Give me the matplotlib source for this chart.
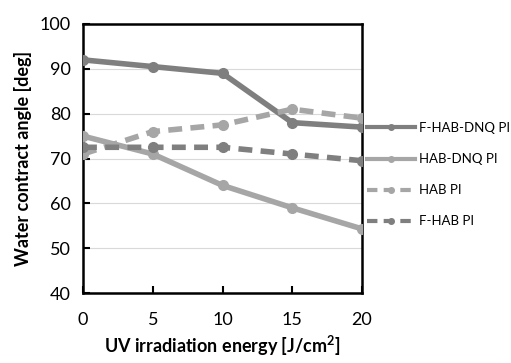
import matplotlib.pyplot as plt

plt.rcParams['font.family'] = ['Lato', 'DejaVu Sans']

energy = [0, 5, 10, 15, 20]
f_hab_dnq = [92, 90.5, 89, 78, 77]
hab_dnq = [75, 71, 64, 59, 54.3]
hab = [71, 76, 77.5, 81, 79]
f_hab = [72.5, 72.5, 72.5, 71, 69.5]

dark = '#7f7f7f'
light = '#a6a6a6'

fig = plt.figure(figsize=(5.11, 3.63), dpi=100)
ax = fig.add_axes([83/511, 1 - 293/363, (362-83)/511, (293-24)/363])

ax.plot(energy, f_hab_dnq, color=dark, lw=4, marker='o', ms=7, label='F-HAB-DNQ PI', zorder=3)
ax.plot(energy, hab_dnq, color=light, lw=4, marker='o', ms=7, label='HAB-DNQ PI', zorder=3)
ax.plot(energy, hab, color=light, lw=4, ls=(0, (2.5, 1.5)), marker='o', ms=7, label='HAB PI', zorder=3)
ax.plot(energy, f_hab, color=dark, lw=4, ls=(0, (2.5, 1.5)), marker='o', ms=7, label='F-HAB PI', zorder=3)

ax.set_xlim(0, 20)
ax.set_ylim(40, 100)
ax.set_xticks(energy)
ax.set_yticks(range(40, 101, 10))
ax.grid(axis='y', color='#d9d9d9', lw=0.8)
ax.set_axisbelow(True)
for s in ax.spines.values():
    s.set_linewidth(1.8)
ax.tick_params(direction='in', length=5, width=1.5, labelsize=13)
ax.tick_params(axis='x', pad=14)
ax.tick_params(axis='y', pad=9)

ax.set_xlabel('UV irradiation energy [J/cm$^\\mathregular{2}$]', fontsize=13, fontweight='bold', labelpad=4)
ax.set_ylabel('Water contract angle [deg]', fontsize=13, fontweight='bold', labelpad=5)

leg = ax.legend(loc='upper left', bbox_to_anchor=(0.99, 0.665), frameon=False, fontsize=9.5,
                handlelength=3.6, handletextpad=0.3, labelspacing=1.45, borderaxespad=0.2)
for h in leg.legend_handles:
    h.set_markersize(4)
    h.set_linewidth(3)

fig.savefig('out.png', dpi=100)
